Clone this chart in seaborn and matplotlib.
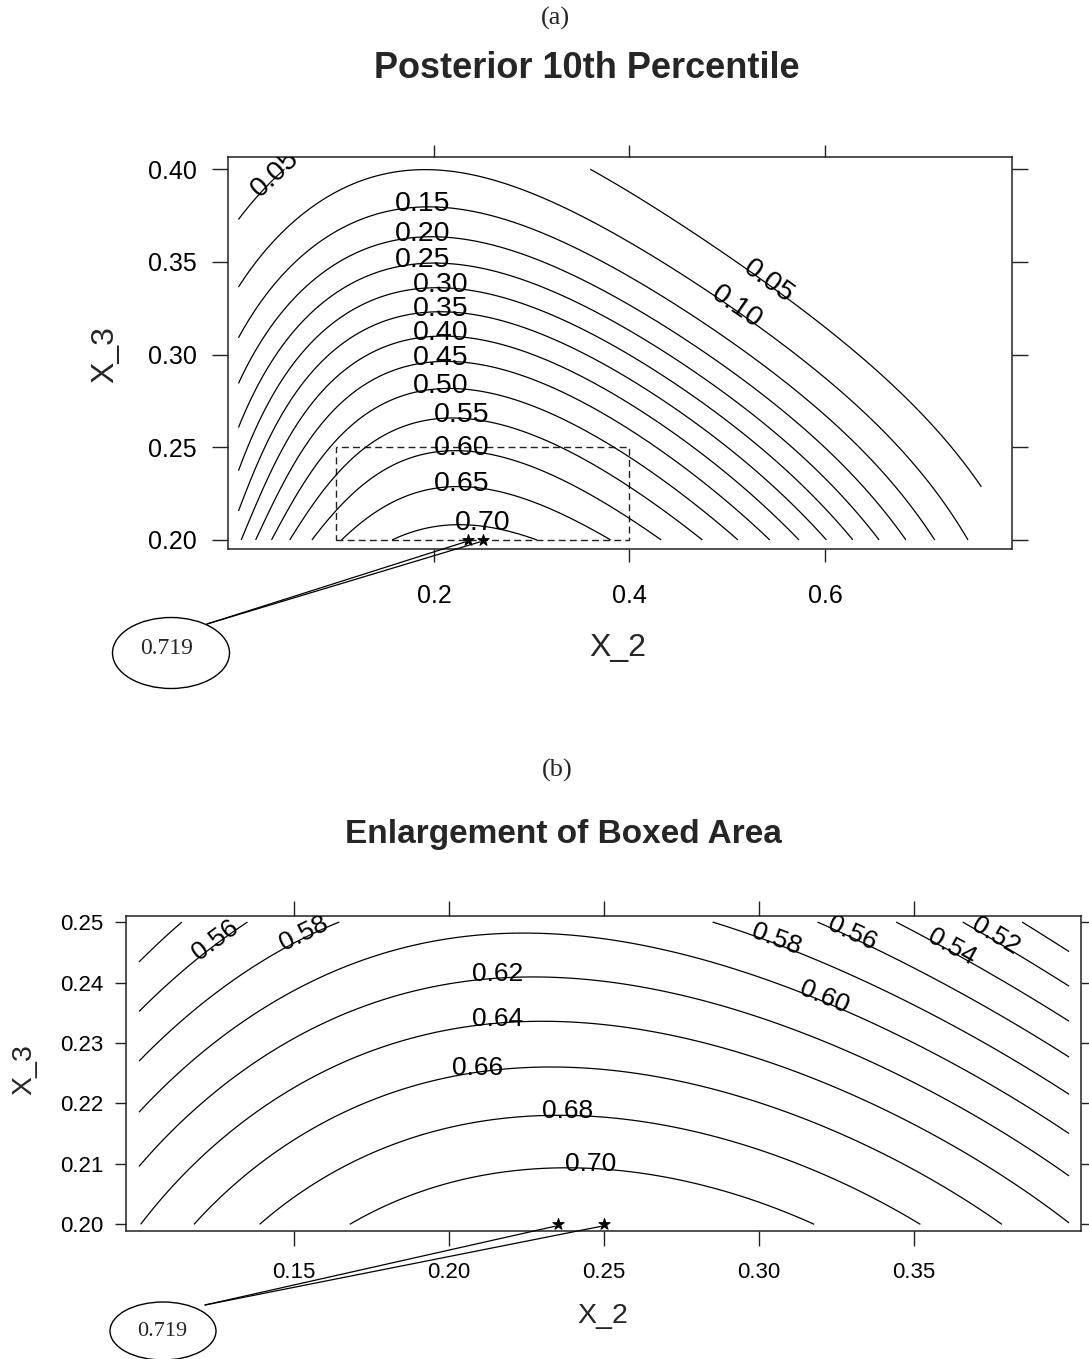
import numpy as np
import pandas as pd
import matplotlib
matplotlib.use("Agg")
import matplotlib.pyplot as plt
import seaborn as sns
from matplotlib.patches import Ellipse, Rectangle
from matplotlib.lines import Line2D
from matplotlib.transforms import IdentityTransform, offset_copy

# ---------------- data ----------------
# Panel (a): points on contour lines (X_2, X_3, level)
a_bottom_x2 = [0.0015, 0.018, 0.035, 0.053, 0.075, 0.108, 0.169,
               0.3187, 0.391, 0.436, 0.475, 0.511, 0.542, 0.570, 0.599,
               0.626, 0.654, 0.684, 0.716, 0.752]
a_bottom_lv = [0.40, 0.45, 0.50, 0.55, 0.60, 0.65, 0.70,
               0.70, 0.65, 0.60, 0.55, 0.50, 0.45, 0.40, 0.35,
               0.30, 0.25, 0.20, 0.15, 0.10]
a_crest_x2 = [0.237, 0.231, 0.225, 0.219, 0.213, 0.208, 0.203, 0.198, 0.194,
              0.189, 0.184, 0.178, 0.172]
a_crest_x3 = [0.208, 0.228, 0.246, 0.263, 0.279, 0.294, 0.308, 0.322, 0.334,
              0.348, 0.364, 0.381, 0.3996]
a_crest_lv = [0.70, 0.65, 0.60, 0.55, 0.50, 0.45, 0.40, 0.35, 0.30,
              0.25, 0.20, 0.15, 0.10]
a_left_x3 = [0.367, 0.331, 0.304, 0.282, 0.260, 0.239, 0.218]
a_left_lv = [0.05, 0.10, 0.15, 0.20, 0.25, 0.30, 0.35]
a_row35_x2 = [0.020, 0.054, 0.094, 0.294, 0.378, 0.440, 0.519]
a_row35_lv = [0.10, 0.15, 0.20, 0.20, 0.15, 0.10, 0.05]
a_row30_x2 = [0.0176, 0.0359, 0.0593, 0.0854, 0.122, 0.315, 0.362, 0.404,
              0.440, 0.477, 0.519, 0.565, 0.623]
a_row30_lv = [0.20, 0.25, 0.30, 0.35, 0.40, 0.40, 0.35, 0.30,
              0.25, 0.20, 0.15, 0.10, 0.05]
a_row25_x2 = [0.0124, 0.0307, 0.0463, 0.0646, 0.088, 0.122, 0.315, 0.393,
              0.43, 0.461, 0.498, 0.534, 0.571, 0.602, 0.639, 0.670, 0.717]
a_row25_lv = [0.30, 0.35, 0.40, 0.45, 0.50, 0.55, 0.55, 0.50,
              0.45, 0.40, 0.35, 0.30, 0.25, 0.20, 0.15, 0.10, 0.05]
a_extra_x2 = [0.760, 0.053, 0.352]
a_extra_x3 = [0.225, 0.400, 0.400]
a_extra_lv = [0.05, 0.05, 0.05]
a_levels = [0.05, 0.10, 0.15, 0.20, 0.25, 0.30, 0.35, 0.40, 0.45, 0.50,
            0.55, 0.60, 0.65, 0.70]

# Panel (b): points on contour lines
b_left_x3 = [0.243, 0.2343, 0.2267, 0.2181, 0.2086]
b_left_lv = [0.54, 0.56, 0.58, 0.60, 0.62]
b_bottom_x2 = [0.1008, 0.1177, 0.1377, 0.1688, 0.3178, 0.3517, 0.38, 0.3998]
b_bottom_lv = [0.64, 0.66, 0.68, 0.70, 0.70, 0.68, 0.66, 0.64]
b_right_x3 = [0.2453, 0.2393, 0.2332, 0.2269, 0.2209, 0.2146, 0.2077, 0.2005]
b_right_lv = [0.50, 0.52, 0.54, 0.56, 0.58, 0.60, 0.62, 0.64]
b_top_x2 = [0.1142, 0.1345, 0.1636, 0.2821, 0.3189, 0.3443, 0.3658, 0.3856]
b_top_lv = [0.54, 0.56, 0.58, 0.58, 0.56, 0.54, 0.52, 0.50]
b_row24_x2 = [0.1088, 0.1278, 0.1517, 0.2016, 0.2615, 0.311, 0.333, 0.357, 0.379, 0.399]
b_row24_lv = [0.56, 0.58, 0.60, 0.62, 0.62, 0.60, 0.58, 0.56, 0.54, 0.52]
b_row22_x2 = [0.1018, 0.1198, 0.1408, 0.1707, 0.3054, 0.3393, 0.3673, 0.3892]
b_row22_lv = [0.60, 0.62, 0.64, 0.66, 0.66, 0.64, 0.62, 0.60]
b_row21_x2 = [0.0999, 0.1178, 0.1368, 0.1657, 0.3114, 0.3433, 0.3713, 0.3952]
b_row21_lv = [0.62, 0.64, 0.66, 0.68, 0.68, 0.66, 0.64, 0.62]
b_crest_x2 = [0.240, 0.232, 0.228, 0.228, 0.228, 0.225]
b_crest_x3 = [0.2086, 0.2172, 0.2247, 0.2330, 0.2406, 0.2475]
b_crest_lv = [0.70, 0.68, 0.66, 0.64, 0.62, 0.60]
b_levels = [0.50, 0.52, 0.54, 0.56, 0.58, 0.60, 0.62, 0.64, 0.66, 0.68, 0.70]

# maximum
peak_value = 0.719
peak_x2 = [0.235, 0.250]
peak_x3 = [0.200, 0.200]

# ---------------- surface fitted through the read contour points ----------------
def collect(groups):
    xs, ys, zs = [], [], []
    for gx, gy, gz in groups:
        n = len(gz)
        gx = gx if hasattr(gx, "__len__") else [gx] * n
        gy = gy if hasattr(gy, "__len__") else [gy] * n
        xs += list(gx); ys += list(gy); zs += list(gz)
    return np.array(xs), np.array(ys), np.array(zs)


def fit_surface(x, y, z, deg, xc, xs, yc, ys):
    u, v = (x - xc) / xs, (y - yc) / ys
    terms = [(i, j) for i in range(deg + 1) for j in range(deg + 1 - i)]
    A = np.column_stack([u ** i * v ** j for i, j in terms])
    t = np.log(z / (1 - z))
    w = z * (1 - z)
    coef, *_ = np.linalg.lstsq(A * w[:, None], t * w, rcond=None)

    def f(X, Y):
        U, V = (X - xc) / xs, (Y - yc) / ys
        T = sum(c * U ** i * V ** j for c, (i, j) in zip(coef, terms))
        return 1 / (1 + np.exp(-T))
    return f


ax_, ay_, az_ = collect([
    (a_bottom_x2, 0.2, a_bottom_lv),
    (a_crest_x2, a_crest_x3, a_crest_lv),
    (0.0, a_left_x3, a_left_lv),
    (a_row35_x2, 0.35, a_row35_lv),
    (a_row30_x2, 0.30, a_row30_lv),
    (a_row25_x2, 0.25, a_row25_lv),
    (a_extra_x2, a_extra_x3, a_extra_lv),
    ([0.242], [0.2], [peak_value]),
])
fa = fit_surface(ax_, ay_, az_, 4, 0.38, 0.38, 0.30, 0.10)

bx_, by_, bz_ = collect([
    (0.1, b_left_x3, b_left_lv),
    (b_bottom_x2, 0.2, b_bottom_lv),
    (0.4, b_right_x3, b_right_lv),
    (b_top_x2, 0.25, b_top_lv),
    (b_row24_x2, 0.24, b_row24_lv),
    (b_row22_x2, 0.22, b_row22_lv),
    (b_row21_x2, 0.21, b_row21_lv),
    (b_crest_x2, b_crest_x3, b_crest_lv),
    ([0.242], [0.2], [peak_value]),
])
fb = fit_surface(bx_, by_, bz_, 3, 0.25, 0.15, 0.225, 0.025)

# ---------------- figure ----------------
sns.set_theme(style="white")
plt.rcParams['font.family'] = ['Liberation Sans', 'DejaVu Sans']
SERIF = ['Liberation Serif', 'DejaVu Serif']

W, H = 1089, 1359
fig = plt.figure(figsize=(W / 100, H / 100), dpi=100)
fig.patch.set_facecolor('white')


def fx(px):
    return px / W


def fy(py):
    return 1 - py / H


def style_axes(ax, tick_size, xlen, ylen, xpad, ypad):
    for s in ax.spines.values():
        s.set_color('#222222')
        s.set_linewidth(1.1)
    ax.set_facecolor('white')
    ax.grid(False)
    ax.tick_params(axis='x', which='both', direction='out', length=xlen, width=1.0,
                   color='#222222', bottom=True, top=True, labelbottom=True,
                   labeltop=False, labelsize=tick_size, pad=xpad, labelcolor='black')
    ax.tick_params(axis='y', which='both', direction='out', length=ylen, width=1.0,
                   color='#222222', left=True, right=True, labelleft=True,
                   labelright=False, labelsize=tick_size, pad=ypad, labelcolor='black')


def split_path(path):
    verts, codes = path.vertices, path.codes
    if codes is None:
        return [verts]
    segs, cur = [], []
    for v, c in zip(verts, codes):
        if c == 1 and cur:
            segs.append(np.array(cur)); cur = []
        if c != 79:
            cur.append(v)
    if cur:
        segs.append(np.array(cur))
    return segs


def label_contours(ax, cs, levels, specs, size, flat_thresh=14, drop=4):
    paths = cs.get_paths()
    for lv, hx, hy, rot in specs:
        idx = int(np.argmin(np.abs(np.array(levels) - lv)))
        segs = [s for s in split_path(paths[idx]) if len(s) > 1]
        hd = ax.transData.transform([(hx, hy)])[0]
        best = None
        for seg in segs:
            d = ax.transData.transform(seg)
            dist = np.hypot(d[:, 0] - hd[0], d[:, 1] - hd[1])
            k = int(np.argmin(dist))
            if best is None or dist[k] < best[0]:
                best = (dist[k], seg, d, k)
        _, seg, d, k = best
        k0, k1 = max(k - 4, 0), min(k + 4, len(d) - 1)
        ang = np.degrees(np.arctan2(d[k1, 1] - d[k0, 1], d[k1, 0] - d[k0, 0]))
        if ang > 90:
            ang -= 180
        if ang < -90:
            ang += 180
        if rot == 'flat' or abs(ang) < flat_thresh:
            ang = 0
        r = np.radians(ang)
        tr = offset_copy(ax.transData, fig=fig, x=drop * np.sin(r),
                         y=-drop * np.cos(r), units='dots')
        ax.text(seg[k, 0], seg[k, 1], f"{lv:.2f}", rotation=ang, rotation_mode='anchor',
                ha='center', va='baseline', fontsize=size, color='black',
                clip_on=True, transform=tr)


# ---------- panel (a) ----------
axA = fig.add_axes([fx(228), fy(549), fx(1012) - fx(228), fy(157) - fy(549)])
axA.set_xlim(-0.0107, 0.7913)
axA.set_ylim(0.1951, 0.4066)
style_axes(axA, 18, 9, 11.5, 16, 11)

gx = np.linspace(0.0, 0.76, 320)
gy = np.linspace(0.2, 0.4, 220)
GX, GY = np.meshgrid(gx, gy)
csA = axA.contour(GX, GY, fa(GX, GY), levels=a_levels, colors='black',
                  linewidths=0.9, linestyles='solid')

axA.add_patch(Rectangle((0.1, 0.2), 0.3, 0.05, fill=False, edgecolor='#222222',
                        linewidth=1.0, linestyle=(0, (5, 3))))

stars = pd.DataFrame({'X_2': peak_x2, 'X_3': peak_x3})
sns.scatterplot(data=stars, x='X_2', y='X_3', marker='*', s=75, color='black',
                edgecolor='black', ax=axA, clip_on=False, zorder=5, legend=False)

axA.set_xticks([0.2, 0.4, 0.6])
axA.set_xticklabels(['0.2', '0.4', '0.6'])
axA.set_yticks([0.20, 0.25, 0.30, 0.35, 0.40])
axA.set_yticklabels(['0.20', '0.25', '0.30', '0.35', '0.40'])
axA.set_xlabel('X_2', fontsize=23)
axA.set_ylabel('X_3', fontsize=23)
axA.xaxis.set_label_coords((618 - 228) / 784, (549 - 648) / 392)
axA.xaxis.label.set_va('center')
axA.yaxis.set_label_coords((105 - 228) / 784, (549 - 355) / 392)
axA.yaxis.label.set_va('center')

a_label_specs = [
    (0.05, 0.024, 0.4055, 'along'),
    (0.15, 0.188, 0.386, 'flat'), (0.20, 0.188, 0.369, 'flat'),
    (0.25, 0.188, 0.356, 'flat'), (0.30, 0.207, 0.340, 'flat'),
    (0.35, 0.207, 0.327, 'flat'), (0.40, 0.207, 0.313, 'flat'),
    (0.45, 0.207, 0.299, 'flat'), (0.50, 0.207, 0.286, 'flat'),
    (0.55, 0.228, 0.270, 'flat'), (0.60, 0.228, 0.253, 'flat'),
    (0.65, 0.228, 0.2345, 'flat'), (0.70, 0.252, 0.2135, 'along'),
    (0.05, 0.545, 0.342, 'along'), (0.10, 0.514, 0.329, 'along'),
]
label_contours(axA, csA, a_levels, a_label_specs, 20.5)

# ---------- panel (b) ----------
axB = fig.add_axes([fx(126), fy(1231), fx(1080.5) - fx(126), fy(916) - fy(1231)])
axB.set_xlim(0.0958, 0.4037)
axB.set_ylim(0.1989, 0.2510)
style_axes(axB, 16, 11, 8, 11, 8.5)

hx = np.linspace(0.1, 0.4, 320)
hy = np.linspace(0.2, 0.25, 200)
HX, HY = np.meshgrid(hx, hy)
csB = axB.contour(HX, HY, fb(HX, HY), levels=b_levels, colors='black',
                  linewidths=0.9, linestyles='solid')
sns.scatterplot(data=stars, x='X_2', y='X_3', marker='*', s=75, color='black',
                edgecolor='black', ax=axB, clip_on=False, zorder=5, legend=False)

axB.set_xticks([0.15, 0.20, 0.25, 0.30, 0.35])
axB.set_xticklabels(['0.15', '0.20', '0.25', '0.30', '0.35'])
axB.set_yticks([0.20, 0.21, 0.22, 0.23, 0.24, 0.25])
axB.set_yticklabels(['0.20', '0.21', '0.22', '0.23', '0.24', '0.25'])
axB.set_xlabel('X_2', fontsize=20.5)
axB.set_ylabel('X_3', fontsize=20.5)
axB.xaxis.set_label_coords((603 - 126) / 954.5, (1231 - 1316) / 315)
axB.xaxis.label.set_va('center')
axB.yaxis.set_label_coords((24 - 126) / 954.5, (1231 - 1070) / 315)
axB.yaxis.label.set_va('center')

b_label_specs = [
    (0.56, 0.1235, 0.2480, 'along'), (0.58, 0.1523, 0.2493, 'along'),
    (0.62, 0.2158, 0.2424, 'flat'), (0.64, 0.2158, 0.2349, 'flat'),
    (0.66, 0.2087, 0.2267, 'flat'), (0.68, 0.2380, 0.2187, 'flat'),
    (0.70, 0.2458, 0.2106, 'flat'),
    (0.58, 0.3055, 0.2475, 'along'), (0.56, 0.3303, 0.2490, 'along'),
    (0.54, 0.3629, 0.2467, 'along'), (0.52, 0.3768, 0.2480, 'along'),
    (0.60, 0.3213, 0.2379, 'along'),
]
label_contours(axB, csB, b_levels, b_label_specs, 19, flat_thresh=8, drop=3)

# ---------- titles and panel tags ----------
fig.text(fx(555), fy(18), '(a)', ha='center', va='center', fontsize=19, family=SERIF)
fig.text(fx(587), fy(68), 'Posterior 10th Percentile', ha='center', va='center',
         fontsize=26, fontweight='bold')
fig.text(fx(557), fy(770), '(b)', ha='center', va='center', fontsize=19, family=SERIF)
fig.text(fx(563), fy(835), 'Enlargement of Boxed Area', ha='center', va='center',
         fontsize=24, fontweight='bold')

# ---------- maximum call-outs (ellipse + leader lines) ----------
def callout(ax, center_px, size_px, start_px, text_px, fsize):
    cx, cy = center_px
    fig.add_artist(Ellipse((fx(cx), fy(cy)), size_px[0] / W, size_px[1] / H,
                           transform=fig.transFigure, fill=False,
                           edgecolor='black', linewidth=1.0))
    fig.text(fx(text_px[0]), fy(text_px[1]), f"{peak_value:.3f}", ha='center',
             va='center', fontsize=fsize, family=SERIF)
    sx, sy = start_px[0], H - start_px[1]
    for px2, px3 in zip(peak_x2, peak_x3):
        tx, ty = ax.transData.transform((px2, px3))
        fig.add_artist(Line2D([sx, tx - 3], [sy, ty - 2], transform=IdentityTransform(),
                              color='black', linewidth=0.9))


callout(axA, (171, 653), (117, 71), (207, 624), (167, 648), 17)
callout(axB, (163, 1331), (106, 58), (205, 1305), (162, 1331), 16)

fig.savefig('out.png', dpi=100, facecolor='white')
